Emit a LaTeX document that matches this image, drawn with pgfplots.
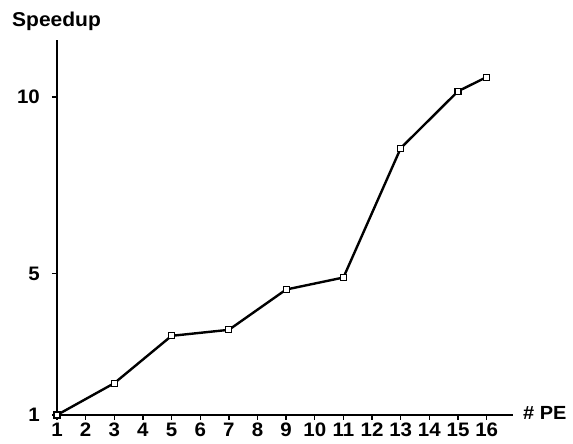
\documentclass[border=0pt]{standalone}
\usepackage{fontspec}
\setmainfont{Liberation Sans}[FakeStretch=1.05]
\usepackage{pgfplots}
\pgfplotsset{compat=1.18}
\begin{document}
\begin{tikzpicture}
\begin{axis}[
  at={(0,0)}, anchor=south west,
  scale only axis,
  width=456pt, height=375pt,
  xmin=1, xmax=16.92,
  ymin=1, ymax=11.61,
  axis lines=left,
  axis line style={-, line width=1.4pt},
  tick align=outside,
  major tick length=5pt,
  tick style={black, line width=1.3pt},
  xtick={1,...,16},
  ytick={1,5,10},
  /pgf/number format/assume math mode=true,
  ticklabel style={font=\bfseries\fontsize{19.5}{21}\selectfont},
  xticklabel style={inner sep=1pt, yshift=-2pt},
  yticklabel style={inner sep=1pt, xshift=-11pt},
  xlabel={\# PE},
  xlabel style={font=\bfseries\fontsize{19}{21}\selectfont, at={(axis description cs:1,0)}, anchor=west, inner sep=0pt, xshift=10pt, yshift=2pt},
  ylabel={Speedup},
  ylabel style={font=\bfseries\fontsize{20}{22}\selectfont, rotate=-90, at={(axis description cs:0,1)}, anchor=base west, inner sep=0pt, xshift=-45pt, yshift=13pt},
  clip=false,
]
\addplot[black, line width=2.4pt, mark=square*, mark size=3pt, mark options={fill=white, draw=black, line width=1.2pt}]
  coordinates {(1,1) (3,1.90) (5,3.24) (7,3.41) (9,4.55) (11,4.89) (13,8.55) (15,10.16) (16,10.56)};
\end{axis}
\path (-57pt,-29pt) rectangle (516pt,415pt);
\end{tikzpicture}
\end{document}
